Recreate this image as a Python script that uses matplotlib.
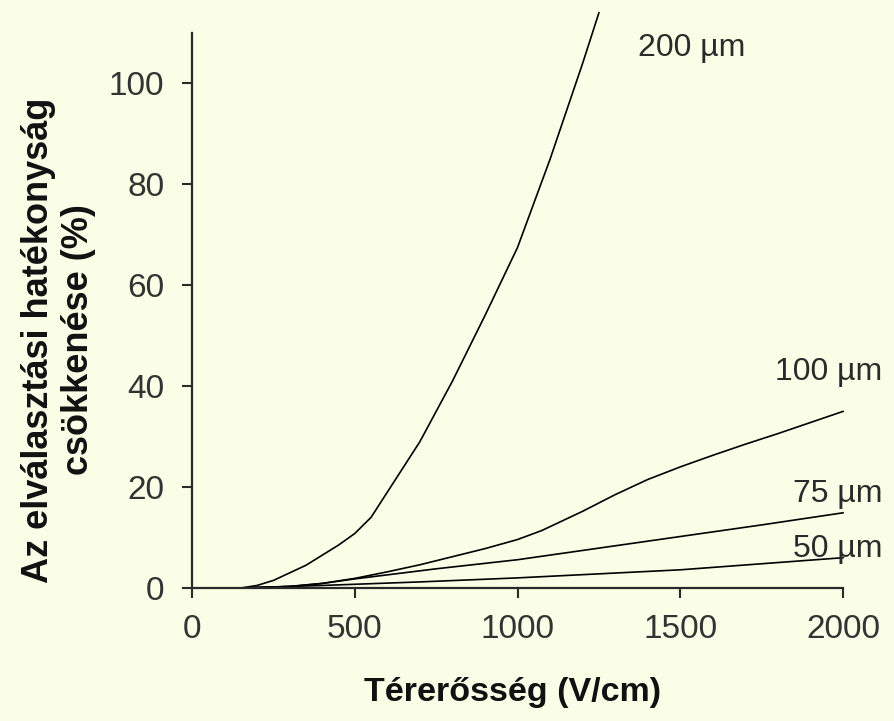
import matplotlib
matplotlib.use('Agg')
import matplotlib.pyplot as plt

plt.rcParams['font.family'] = ['Liberation Sans', 'DejaVu Sans']

bg = '#fafee6'
ink = '#2a2a2a'

# field strength (V/cm) and separation-efficiency drop (%) per capillary diameter
v_200 = [150, 200, 250, 300, 350, 400, 450, 500, 550, 600, 650, 700, 750, 800, 900, 1000, 1100, 1200, 1250]
d_200 = [0, 0.5, 1.5, 3.0, 4.5, 6.5, 8.5, 10.8, 14, 19, 24, 29, 35, 41, 54, 67.5, 85, 104, 114]

v_100 = [150, 300, 400, 500, 600, 700, 800, 900, 1000, 1075, 1200, 1300, 1400, 1500, 1600, 1700, 1800, 1900, 2000]
d_100 = [0, 0.3, 0.9, 1.9, 3.2, 4.6, 6.2, 7.8, 9.6, 11.4, 15.2, 18.5, 21.5, 24, 26.3, 28.5, 30.6, 32.8, 35]

v_75 = [150, 300, 400, 500, 750, 1000, 1250, 1500, 1750, 2000]
d_75 = [0, 0.3, 0.9, 1.8, 3.8, 5.6, 7.9, 10.2, 12.5, 14.9]

v_50 = [150, 400, 700, 1000, 1500, 2000]
d_50 = [0, 0.5, 1.2, 2.0, 3.6, 6.0]

labels = ['200 µm', '100 µm', '75 µm', '50 µm']
label_x = [1699, 2120, 2120, 2120]
label_y = [105.5, 41.2, 17.0, 6.1]

fig = plt.figure(figsize=(8.94, 7.21), dpi=100)
fig.patch.set_facecolor(bg)
ax = fig.add_axes([0.2148, 0.1845, 0.7282, 0.7697])
ax.set_facecolor(bg)

for x, y in [(v_200, d_200), (v_100, d_100), (v_75, d_75), (v_50, d_50)]:
    ax.plot(x, y, color='black', lw=1.2, clip_on=False)

for t, x, y in zip(labels, label_x, label_y):
    ax.text(x, y, t, ha='right', va='baseline', fontsize=23, color=ink)

ax.set_xlim(0, 2000)
ax.set_ylim(0, 110)
ax.set_xticks([0, 500, 1000, 1500, 2000])
ax.set_yticks([0, 20, 40, 60, 80, 100])

for s in ['top', 'right']:
    ax.spines[s].set_visible(False)
for s in ['left', 'bottom']:
    ax.spines[s].set_linewidth(1.6)
    ax.spines[s].set_color(ink)

ax.tick_params(axis='both', direction='out', length=7, width=1.5, color=ink,
               labelsize=24, labelcolor='#333333')
ax.tick_params(axis='x', pad=12)
ax.tick_params(axis='y', pad=13)

ax.set_xlabel('Térerősség (V/cm)', fontsize=24.5, fontweight='bold', color='#111111')
ax.xaxis.set_label_coords(0.493, -0.16)

fig.text(58.5 / 894, 1 - 340 / 721, 'Az elválasztási hatékonyság\ncsökkenése (%)',
         rotation=90, ha='center', va='center', multialignment='center',
         fontsize=26, fontweight='bold', color='#111111', linespacing=1.2)

plt.savefig('out.png', dpi=100, facecolor=bg)
